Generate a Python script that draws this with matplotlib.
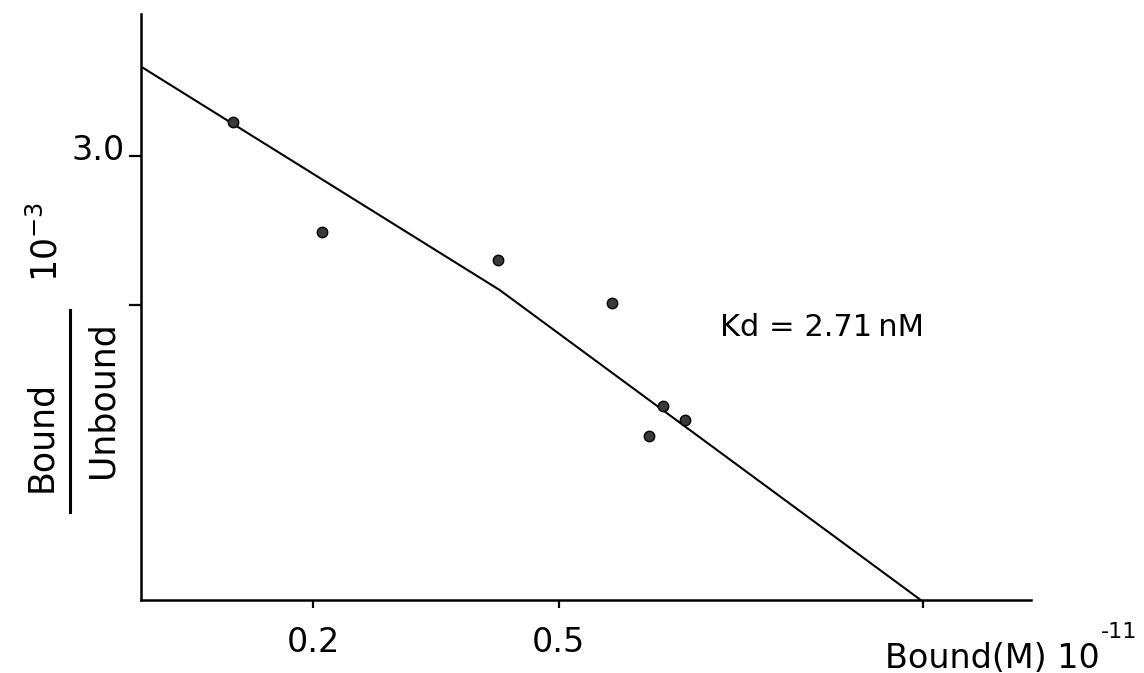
import matplotlib
matplotlib.use("Agg")
from matplotlib import pyplot as plt
from matplotlib.lines import Line2D
from matplotlib.transforms import ScaledTranslation

# Scatchard plot (x in 1e-11 M, y in 1e-3)
bound = [0.102, 0.211, 0.426, 0.565, 0.628, 0.655, 0.611]
ratio = [3.23, 2.49, 2.30, 2.01, 1.32, 1.23, 1.12]

# drawn fit line (slightly bent in the original)
fit_x = [-0.011, 0.428, 0.948]
fit_y = [3.60, 2.10, 0.0]

xticks = [0.2, 0.5, 0.946]
xticklabels = ["0.2", "0.5", ""]
yticks = [2.0, 3.0]
yticklabels = ["", "3.0"]

W, H = 1144, 673
fig = plt.figure(figsize=(W / 100, H / 100), dpi=100)
ax = fig.add_axes([141 / W, 1 - 600 / H, (1031 - 141) / W, (600 - 14) / H])

ax.plot(fit_x, fit_y, color="black", lw=1.5, solid_capstyle="butt")
ax.plot(bound, ratio, "o", ms=7.5, mfc="#3a3a3a", mec="black", mew=1.0)

ax.set_xlim(-0.011, 1.078)
ax.set_ylim(0.02, 3.953)
for s in ("top", "right"):
    ax.spines[s].set_visible(False)
for s in ("left", "bottom"):
    ax.spines[s].set_linewidth(1.8)

ax.set_xticks(xticks)
ax.set_xticklabels(xticklabels)
ax.set_yticks(yticks)
ax.set_yticklabels(yticklabels)
ax.tick_params(axis="x", direction="out", length=6, width=1.6, pad=13, labelsize=24)
ax.tick_params(axis="y", direction="out", length=9, width=1.6, pad=3, labelsize=24)
# "3.0" sits a little above its tick in the original
up = ScaledTranslation(0, 6.5 / 72, fig.dpi_scale_trans)
for lab in ax.get_yticklabels():
    lab.set_transform(lab.get_transform() + up)

ax.text(0.698, 1.85, "Kd = 2.71\u2009nM", fontsize=22, ha="left", va="center")

# y label as a stacked fraction with the 10^-3 factor above it
fig.text(41 / W, 1 - 436 / H, "Bound", rotation=90, fontsize=25, ha="center", va="center")
fig.text(102 / W, 1 - 400 / H, "Unbound", rotation=90, fontsize=25, ha="center", va="center")
fig.add_artist(Line2D([70 / W, 70 / W], [1 - 310 / H, 1 - 512 / H], color="black", lw=2.2))
fig.text(46 / W, 1 - 242 / H, r"10$^{-3}$", rotation=90, fontsize=25, ha="center", va="center")

# x label at the lower right, exponent set by hand so it fits the edge
fig.text(885 / W, 1 - 668 / H, "Bound(M) 10", fontsize=24, ha="left", va="baseline")
fig.text(1101 / W, 1 - 638 / H, "-11", fontsize=16, ha="left", va="baseline")

fig.savefig("out.png", dpi=100)
